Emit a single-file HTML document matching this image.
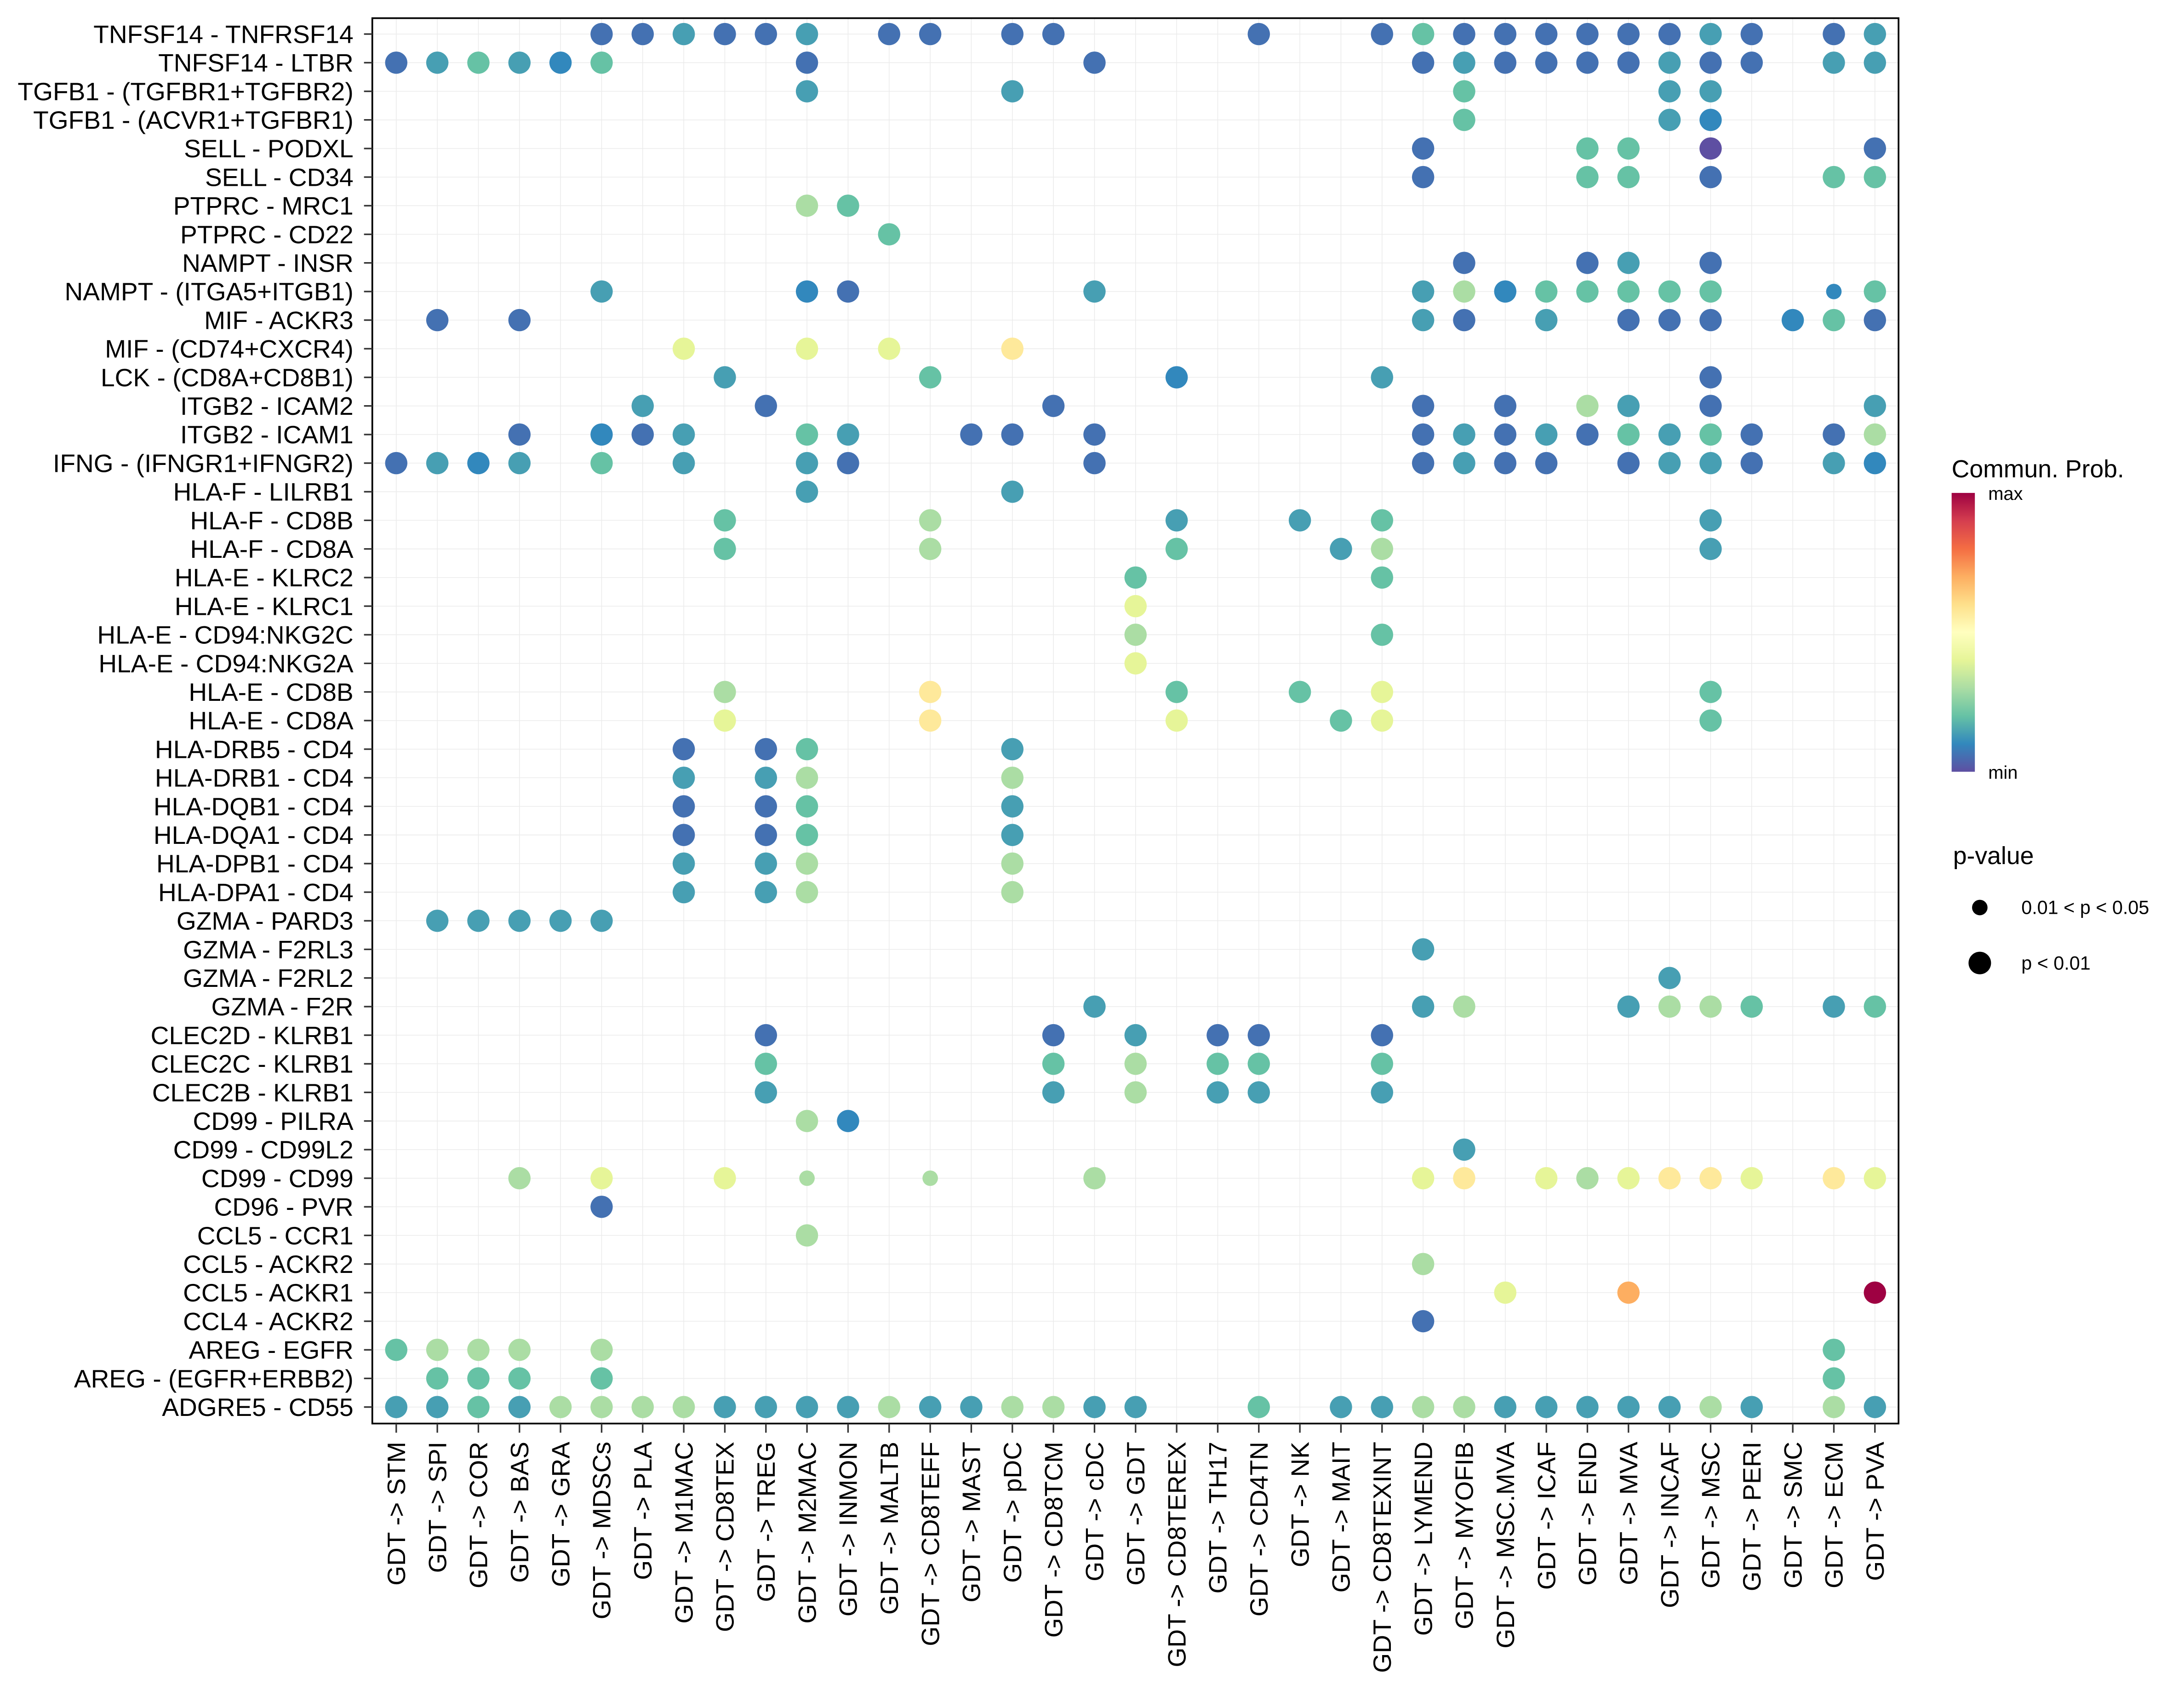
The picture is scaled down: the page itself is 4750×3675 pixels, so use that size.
<!DOCTYPE html>
<html><head><meta charset="utf-8"><title>Bubble chart</title>
<style>html,body{margin:0;padding:0;background:#fff}svg{display:block}text{font-family:"Liberation Sans",Arial,sans-serif;fill:#000}</style>
</head><body>
<svg id="chart" xmlns="http://www.w3.org/2000/svg" width="4750" height="3675" viewBox="0 0 1551.02 1200">
<defs><linearGradient id="cbar" x1="0" y1="1" x2="0" y2="0">
<stop offset="0" stop-color="#5E4FA2"/><stop offset="0.1" stop-color="#3288BD"/><stop offset="0.2" stop-color="#66C2A5"/><stop offset="0.3" stop-color="#ABDDA4"/><stop offset="0.4" stop-color="#E6F598"/><stop offset="0.5" stop-color="#FFFFBF"/><stop offset="0.6" stop-color="#FEE08B"/><stop offset="0.7" stop-color="#FDAE61"/><stop offset="0.8" stop-color="#F46D43"/><stop offset="0.9" stop-color="#D53E4F"/><stop offset="1" stop-color="#9E0142"/></linearGradient></defs>
<g id="grid"></g>
<g id="dots"></g>
<rect x="264.4" y="12.9" width="1083.9" height="997.9" fill="none" stroke="#000" stroke-width="1.2"/>
<g id="yaxis"></g>
<g id="xaxis"></g>
<g>
<text x="1386" y="339" font-size="17.5">Commun. Prob.</text>
<rect x="1386" y="350" width="16.5" height="198" fill="url(#cbar)"/>
<text x="1412" y="355" font-size="13">max</text>
<text x="1412" y="553" font-size="13">min</text>
<text x="1387" y="613.5" font-size="17.5">p-value</text>
<circle cx="1406" cy="644.4" r="5.5" fill="#000"/>
<text x="1435.5" y="649" font-size="13.5">0.01 &lt; p &lt; 0.05</text>
<circle cx="1406" cy="683.8" r="8" fill="#000"/>
<text x="1435.5" y="688.5" font-size="13.5">p &lt; 0.01</text>
</g>
</svg>
<script>
const columns = ["STM","SPI","COR","BAS","GRA","MDSCs","PLA","M1MAC","CD8TEX","TREG","M2MAC","INMON","MALTB","CD8TEFF","MAST","pDC","CD8TCM","cDC","GDT","CD8TEREX","TH17","CD4TN","NK","MAIT","CD8TEXINT","LYMEND","MYOFIB","MSC.MVA","ICAF","END","MVA","INCAF","MSC","PERI","SMC","ECM","PVA"];
const pairs = ["TNFSF14 - TNFRSF14","TNFSF14 - LTBR","TGFB1 - (TGFBR1+TGFBR2)","TGFB1 - (ACVR1+TGFBR1)","SELL - PODXL","SELL - CD34","PTPRC - MRC1","PTPRC - CD22","NAMPT - INSR","NAMPT - (ITGA5+ITGB1)","MIF - ACKR3","MIF - (CD74+CXCR4)","LCK - (CD8A+CD8B1)","ITGB2 - ICAM2","ITGB2 - ICAM1","IFNG - (IFNGR1+IFNGR2)","HLA-F - LILRB1","HLA-F - CD8B","HLA-F - CD8A","HLA-E - KLRC2","HLA-E - KLRC1","HLA-E - CD94:NKG2C","HLA-E - CD94:NKG2A","HLA-E - CD8B","HLA-E - CD8A","HLA-DRB5 - CD4","HLA-DRB1 - CD4","HLA-DQB1 - CD4","HLA-DQA1 - CD4","HLA-DPB1 - CD4","HLA-DPA1 - CD4","GZMA - PARD3","GZMA - F2RL3","GZMA - F2RL2","GZMA - F2R","CLEC2D - KLRB1","CLEC2C - KLRB1","CLEC2B - KLRB1","CD99 - PILRA","CD99 - CD99L2","CD99 - CD99","CD96 - PVR","CCL5 - CCR1","CCL5 - ACKR2","CCL5 - ACKR1","CCL4 - ACKR2","AREG - EGFR","AREG - (EGFR+ERBB2)","ADGRE5 - CD55"];
const probLevels = {P:0, B:0.06, b:0.1, t:0.14, g:0.2, l:0.3, y:0.4, Y:0.57, O:0.7, R:1};
const rowValues = [
"MDSCs:B PLA:B M1MAC:t CD8TEX:B TREG:B M2MAC:t MALTB:B CD8TEFF:B pDC:B CD8TCM:B CD4TN:B CD8TEXINT:B LYMEND:g MYOFIB:B MSC.MVA:B ICAF:B END:B MVA:B INCAF:B MSC:t PERI:B ECM:B PVA:t",
"STM:B SPI:t COR:g BAS:t GRA:b MDSCs:g M2MAC:B cDC:B LYMEND:B MYOFIB:t MSC.MVA:B ICAF:B END:B MVA:B INCAF:t MSC:B PERI:B ECM:t PVA:t",
"M2MAC:t pDC:t MYOFIB:g INCAF:t MSC:t",
"MYOFIB:g INCAF:t MSC:b",
"LYMEND:B END:g MVA:g MSC:P PVA:B",
"LYMEND:B END:g MVA:g MSC:B ECM:g PVA:g",
"M2MAC:l INMON:g",
"MALTB:g",
"MYOFIB:B END:B MVA:t MSC:B",
"MDSCs:t M2MAC:b INMON:B cDC:t LYMEND:t MYOFIB:l MSC.MVA:b ICAF:g END:g MVA:g INCAF:g MSC:g ECM:b:s PVA:g",
"SPI:B BAS:B LYMEND:t MYOFIB:B ICAF:t MVA:B INCAF:B MSC:B SMC:b ECM:g PVA:B",
"M1MAC:y M2MAC:y MALTB:y pDC:Y",
"CD8TEX:t CD8TEFF:g CD8TEREX:b CD8TEXINT:t MSC:B",
"PLA:t TREG:B CD8TCM:B LYMEND:B MSC.MVA:B END:l MVA:t MSC:B PVA:t",
"BAS:B MDSCs:b PLA:B M1MAC:t M2MAC:g INMON:t MAST:B pDC:B cDC:B LYMEND:B MYOFIB:t MSC.MVA:B ICAF:t END:B MVA:g INCAF:t MSC:g PERI:B ECM:B PVA:l",
"STM:B SPI:t COR:b BAS:t MDSCs:g M1MAC:t M2MAC:t INMON:B cDC:B LYMEND:B MYOFIB:t MSC.MVA:B ICAF:B MVA:B INCAF:t MSC:t PERI:B ECM:t PVA:b",
"M2MAC:t pDC:t",
"CD8TEX:g CD8TEFF:l CD8TEREX:t NK:t CD8TEXINT:g MSC:t",
"CD8TEX:g CD8TEFF:l CD8TEREX:g MAIT:t CD8TEXINT:l MSC:t",
"GDT:g CD8TEXINT:g",
"GDT:y",
"GDT:l CD8TEXINT:g",
"GDT:y",
"CD8TEX:l CD8TEFF:Y CD8TEREX:g NK:g CD8TEXINT:y MSC:g",
"CD8TEX:y CD8TEFF:Y CD8TEREX:y MAIT:g CD8TEXINT:y MSC:g",
"M1MAC:B TREG:B M2MAC:g pDC:t",
"M1MAC:t TREG:t M2MAC:l pDC:l",
"M1MAC:B TREG:B M2MAC:g pDC:t",
"M1MAC:B TREG:B M2MAC:g pDC:t",
"M1MAC:t TREG:t M2MAC:l pDC:l",
"M1MAC:t TREG:t M2MAC:l pDC:l",
"SPI:t COR:t BAS:t GRA:t MDSCs:t",
"LYMEND:t",
"INCAF:t",
"cDC:t LYMEND:t MYOFIB:l MVA:t INCAF:l MSC:l PERI:g ECM:t PVA:g",
"TREG:B CD8TCM:B GDT:t TH17:B CD4TN:B CD8TEXINT:B",
"TREG:g CD8TCM:g GDT:l TH17:g CD4TN:g CD8TEXINT:g",
"TREG:t CD8TCM:t GDT:l TH17:t CD4TN:t CD8TEXINT:t",
"M2MAC:l INMON:b",
"MYOFIB:t",
"BAS:l MDSCs:y CD8TEX:y M2MAC:l:s CD8TEFF:l:s cDC:l LYMEND:y MYOFIB:Y ICAF:y END:l MVA:y INCAF:Y MSC:Y PERI:y ECM:Y PVA:y",
"MDSCs:B",
"M2MAC:l",
"LYMEND:l",
"MSC.MVA:y MVA:O PVA:R",
"LYMEND:B",
"STM:g SPI:l COR:l BAS:l MDSCs:l ECM:g",
"SPI:g COR:g BAS:g MDSCs:g ECM:g",
"STM:t SPI:t COR:g BAS:t GRA:l MDSCs:l PLA:l M1MAC:l CD8TEX:t TREG:t M2MAC:t INMON:t MALTB:l CD8TEFF:t MAST:t pDC:l CD8TCM:l cDC:t GDT:t CD4TN:g MAIT:t CD8TEXINT:t LYMEND:l MYOFIB:l MSC.MVA:t ICAF:t END:t MVA:t INCAF:t MSC:l PERI:t ECM:l PVA:t"
];
const NS="http://www.w3.org/2000/svg";
const X0=281.4, XSTEP=29.17, Y0=24.2, YSTEP=20.31;
function xScale(i){return X0+i*XSTEP;}
function yScale(i){return Y0+i*YSTEP;}
const spectral=["#5E4FA2","#3288BD","#66C2A5","#ABDDA4","#E6F598","#FFFFBF","#FEE08B","#FDAE61","#F46D43","#D53E4F","#9E0142"];
function colorScale(v){
  v=Math.max(0,Math.min(1,v));const p=v*10;const i=Math.min(9,Math.floor(p));const f=p-i;
  const a=spectral[i],b=spectral[i+1];const c=k=>Math.round(parseInt(a.substr(k,2),16)*(1-f)+parseInt(b.substr(k,2),16)*f);
  return "rgb("+c(1)+","+c(3)+","+c(5)+")";
}
function mk(tag,attrs,parent){const e=document.createElementNS(NS,tag);for(const k in attrs)e.setAttribute(k,attrs[k]);parent.appendChild(e);return e;}
const grid=document.getElementById("grid"),dots=document.getElementById("dots"),yax=document.getElementById("yaxis"),xax=document.getElementById("xaxis");
columns.forEach((c,i)=>{
  const x=xScale(i);
  const gl=mk("line",{x1:x,x2:x,y1:12.9,y2:1010.8,stroke:"#EBEBEB","stroke-width":0.5},grid);
  
  
  const tk=mk("line",{x1:x,x2:x,y1:1010.8,y2:1017.3,stroke:"#333","stroke-width":1.1},xax);
  
  
  const t=mk("text",{x:0,y:0,"font-size":18,"text-anchor":"end",transform:"translate("+(x+6.3)+",1023.7) rotate(-90)"},xax);
  t.textContent="GDT -> "+c;
  
  
});
pairs.forEach((p,r)=>{
  const y=yScale(r);
  const gl=mk("line",{x1:264.4,x2:1348.3,y1:y,y2:y,stroke:"#EBEBEB","stroke-width":0.5},grid);
  
  
  const tk=mk("line",{x1:258.5,x2:264.4,y1:y,y2:y,stroke:"#333","stroke-width":1.1},yax);
  
  
  const t=mk("text",{x:251,y:y+6.3,"font-size":18,"text-anchor":"end"},yax);
  t.textContent=p;
  
  
});
rowValues.forEach((s,r)=>{
  s.split(" ").filter(Boolean).forEach(tok=>{
    const parts=tok.split(":");const ci=columns.indexOf(parts[0]);if(ci<0)return;
    const v=probLevels[parts[1]];const small=parts[2]==="s";
    const c=mk("circle",{cx:xScale(ci),cy:yScale(r),r:small?5.5:7.9,fill:colorScale(v)},dots);
    
    
  });
});
</script>
</body></html>
